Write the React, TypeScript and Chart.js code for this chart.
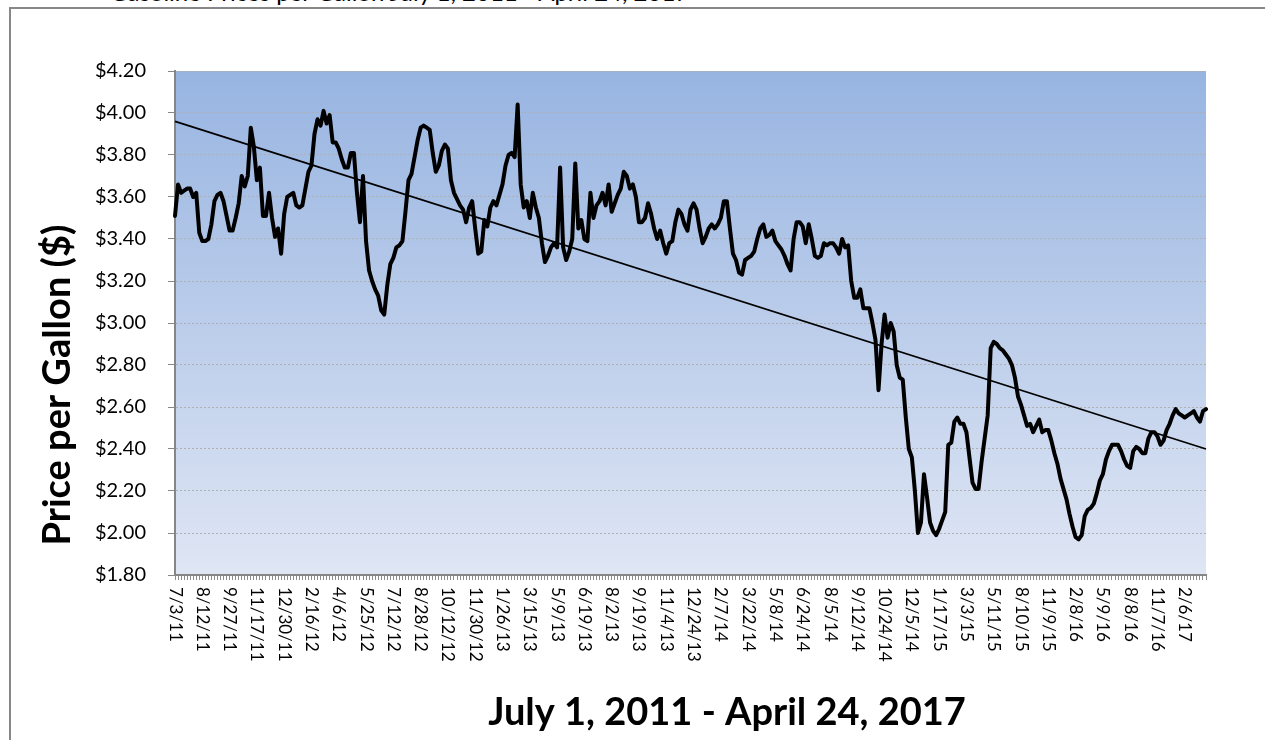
import React, { useEffect, useRef } from 'react';
import { Chart, registerables } from 'chart.js';

Chart.register(...registerables);

// Date labels shown on the category axis (one every LABEL_EVERY observations)
const tickDates: string[] = [
  '7/3/11', '8/12/11', '9/27/11', '11/17/11', '12/30/11', '2/16/12', '4/6/12', '5/25/12',
  '7/12/12', '8/28/12', '10/12/12', '11/30/12', '1/26/13', '3/15/13', '5/9/13', '6/19/13',
  '8/2/13', '9/19/13', '11/4/13', '12/24/13', '2/7/14', '3/22/14', '5/8/14', '6/24/14',
  '8/5/14', '9/12/14', '10/24/14', '12/5/14', '1/17/15', '3/3/15', '5/11/15', '8/10/15',
  '11/9/15', '2/8/16', '5/9/16', '8/8/16', '11/7/16', '2/6/17',
];
const LABEL_EVERY = 9;

// Price per gallon ($)
const prices: number[] = [
  3.51, 3.66, 3.62, 3.63, 3.64, 3.64, 3.60, 3.62, 3.43,
  3.39, 3.39, 3.40, 3.47, 3.58, 3.61, 3.62, 3.58, 3.51,
  3.44, 3.44, 3.50, 3.57, 3.70, 3.65, 3.70, 3.93, 3.84,
  3.68, 3.74, 3.51, 3.51, 3.62, 3.50, 3.41, 3.45, 3.33,
  3.52, 3.60, 3.61, 3.62, 3.56, 3.55, 3.56, 3.64, 3.72,
  3.75, 3.90, 3.97, 3.94, 4.01, 3.95, 3.99, 3.86, 3.86,
  3.83, 3.78, 3.74, 3.74, 3.81, 3.81, 3.62, 3.48, 3.70,
  3.39, 3.25, 3.20, 3.16, 3.13, 3.06, 3.04, 3.18, 3.28,
  3.31, 3.36, 3.37, 3.39, 3.53, 3.68, 3.71, 3.79, 3.87,
  3.93, 3.94, 3.93, 3.92, 3.81, 3.72, 3.75, 3.82, 3.85,
  3.83, 3.68, 3.62, 3.59, 3.56, 3.54, 3.48, 3.55, 3.58,
  3.45, 3.33, 3.34, 3.49, 3.46, 3.55, 3.58, 3.56, 3.61,
  3.66, 3.75, 3.80, 3.81, 3.79, 4.04, 3.66, 3.55, 3.58,
  3.50, 3.62, 3.55, 3.50, 3.38, 3.29, 3.32, 3.36, 3.38,
  3.36, 3.74, 3.36, 3.30, 3.34, 3.40, 3.76, 3.45, 3.49,
  3.40, 3.39, 3.62, 3.50, 3.56, 3.58, 3.62, 3.56, 3.66,
  3.53, 3.57, 3.61, 3.64, 3.72, 3.70, 3.64, 3.66, 3.60,
  3.48, 3.48, 3.50, 3.57, 3.52, 3.45, 3.40, 3.44, 3.38,
  3.33, 3.38, 3.39, 3.48, 3.54, 3.52, 3.47, 3.44, 3.54,
  3.57, 3.54, 3.45, 3.38, 3.41, 3.45, 3.47, 3.45, 3.47,
  3.50, 3.58, 3.58, 3.45, 3.33, 3.30, 3.24, 3.23, 3.30,
  3.31, 3.32, 3.34, 3.40, 3.45, 3.47, 3.41, 3.42, 3.44,
  3.39, 3.37, 3.35, 3.32, 3.28, 3.25, 3.40, 3.48, 3.48,
  3.46, 3.38, 3.47, 3.40, 3.32, 3.31, 3.32, 3.38, 3.37,
  3.38, 3.38, 3.36, 3.33, 3.40, 3.36, 3.37, 3.20, 3.12,
  3.12, 3.16, 3.07, 3.07, 3.07, 3.00, 2.92, 2.68, 2.90,
  3.04, 2.93, 3.00, 2.96, 2.80, 2.74, 2.73, 2.55, 2.40,
  2.36, 2.20, 2.00, 2.05, 2.28, 2.17, 2.05, 2.01, 1.99,
  2.02, 2.06, 2.10, 2.42, 2.43, 2.53, 2.55, 2.52, 2.52,
  2.48, 2.36, 2.24, 2.21, 2.21, 2.34, 2.45, 2.56, 2.88,
  2.91, 2.90, 2.88, 2.87, 2.85, 2.83, 2.80, 2.74, 2.65,
  2.61, 2.56, 2.51, 2.52, 2.48, 2.51, 2.54, 2.48, 2.49,
  2.49, 2.44, 2.38, 2.33, 2.26, 2.21, 2.16, 2.09, 2.03,
  1.98, 1.97, 1.99, 2.08, 2.11, 2.12, 2.14, 2.19, 2.25,
  2.28, 2.35, 2.39, 2.42, 2.42, 2.42, 2.39, 2.35, 2.32,
  2.31, 2.39, 2.41, 2.40, 2.38, 2.38, 2.45, 2.48, 2.48,
  2.46, 2.42, 2.44, 2.49, 2.52, 2.56, 2.59, 2.57, 2.56,
  2.55, 2.56, 2.57, 2.58, 2.55, 2.53, 2.58, 2.59,
];

// Linear trend line: value at first and last observation
const trendEnds: number[] = [3.96, 2.40];

const yTickMin = 1.8;
const yTickMax = 4.2;
const yTickStep = 0.2;

const xTitle = 'July 1, 2011 - April 24, 2017';
const yTitle = 'Price per Gallon ($)';
const topTitle = 'Gasoline Prices per Gallon July 1, 2011 - April 24, 2017';

const categories: string[] = prices.map((_, i) =>
  i % LABEL_EVERY === 0 && tickDates[i / LABEL_EVERY] ? tickDates[i / LABEL_EVERY] : ''
);
const trendData: (number | null)[] = prices.map((_, i) =>
  i === 0 ? trendEnds[0] : i === prices.length - 1 ? trendEnds[1] : null
);

const W = 1265;
const H = 740;

export default function App() {
  const canvasRef = useRef<HTMLCanvasElement | null>(null);

  useEffect(() => {
    const canvas = canvasRef.current;
    if (!canvas) return;

    const bgPlugin = {
      id: 'plotBg',
      beforeDraw(chart: any) {
        const { ctx, chartArea } = chart;
        if (!chartArea) return;
        const g = ctx.createLinearGradient(0, chartArea.top, 0, chartArea.bottom);
        g.addColorStop(0, '#97b4e1');
        g.addColorStop(1, '#dfe6f4');
        ctx.save();
        ctx.fillStyle = g;
        ctx.fillRect(chartArea.left, chartArea.top, chartArea.right - chartArea.left, chartArea.bottom - chartArea.top);
        ctx.restore();
      },
    };

    const textPlugin = {
      id: 'textLabels',
      afterDraw(chart: any) {
        const { ctx, chartArea } = chart;
        const xs = chart.scales.x;
        ctx.save();
        ctx.fillStyle = '#000';
        ctx.font = '17px Lato';
        ctx.textAlign = 'left';
        ctx.textBaseline = 'middle';
        categories.forEach((lab, i) => {
          if (!lab) return;
          const px = xs.getPixelForValue(i);
          ctx.save();
          ctx.translate(px, chartArea.bottom + 12);
          ctx.rotate(Math.PI / 2);
          ctx.fillText(lab, 0, 0);
          ctx.restore();
        });
        ctx.font = 'bold 38px Lato';
        ctx.textAlign = 'center';
        ctx.textBaseline = 'middle';
        ctx.fillText(xTitle, 727, 713);
        ctx.save();
        ctx.translate(58, 385);
        ctx.rotate(-Math.PI / 2);
        ctx.fillText(yTitle, 0, 0);
        ctx.restore();
        ctx.restore();
      },
    };

    const chart = new Chart(canvas, {
      type: 'line',
      data: {
        labels: categories,
        datasets: [
          {
            label: 'Price',
            data: prices,
            borderColor: '#000',
            borderWidth: 4,
            pointRadius: 0,
            tension: 0,
            borderJoinStyle: 'round',
            borderCapStyle: 'round',
            fill: false,
          },
          {
            label: 'Trend',
            data: trendData,
            borderColor: '#000',
            borderWidth: 1.75,
            pointRadius: 0,
            spanGaps: true,
            fill: false,
          },
        ],
      },
      options: {
        animation: false,
        responsive: false,
        maintainAspectRatio: false,
        layout: { padding: { left: 0, top: 71, right: 59, bottom: 0 } },
        plugins: {
          legend: { display: false },
          tooltip: { enabled: false },
          title: { display: false },
        },
        scales: {
          x: {
            type: 'category',
            ticks: { display: false, autoSkip: false },
            grid: {
              drawOnChartArea: false,
              drawTicks: true,
              tickLength: 5,
              tickColor: '#8c8c8c',
              tickWidth: 1,
            },
            border: { color: '#868686', width: 2 },
            afterFit: (s: any) => {
              s.height = 165;
            },
          },
          y: {
            min: yTickMin,
            max: yTickMax,
            ticks: {
              stepSize: yTickStep,
              padding: 22,
              color: '#000',
              font: { family: 'Lato', size: 20 },
              callback: (v: any) => '$' + Number(v).toFixed(2),
            },
            grid: {
              color: '#b0b0b0',
              lineWidth: 1,
              tickLength: 7,
              tickColor: '#868686',
              tickWidth: 1,
            },
            border: { color: '#868686', width: 2, dash: [2, 2] },
            afterFit: (s: any) => {
              s.width = 175;
            },
          },
        },
      },
      plugins: [bgPlugin, textPlugin],
    } as any);

    return () => {
      chart.destroy();
    };
  }, []);

  return (
    <div
      style={{
        position: 'fixed',
        left: 0,
        top: 0,
        width: W,
        height: H,
        overflow: 'hidden',
        background: '#fff',
      }}
    >
      <div
        style={{
          position: 'absolute',
          left: 110,
          top: -20,
          fontFamily: 'Lato, sans-serif',
          fontSize: 24,
          lineHeight: '24px',
          whiteSpace: 'nowrap',
          color: '#000',
        }}
      >
        {topTitle}
      </div>
      <div
        style={{
          position: 'absolute',
          left: 9,
          top: 7,
          width: 1400,
          height: 900,
          borderLeft: '2px solid #878787',
          borderTop: '2px solid #878787',
        }}
      />
      <canvas
        ref={canvasRef}
        width={W}
        height={H}
        style={{ position: 'absolute', left: 0, top: 0, width: W, height: H, display: 'block' }}
      />
    </div>
  );
}
